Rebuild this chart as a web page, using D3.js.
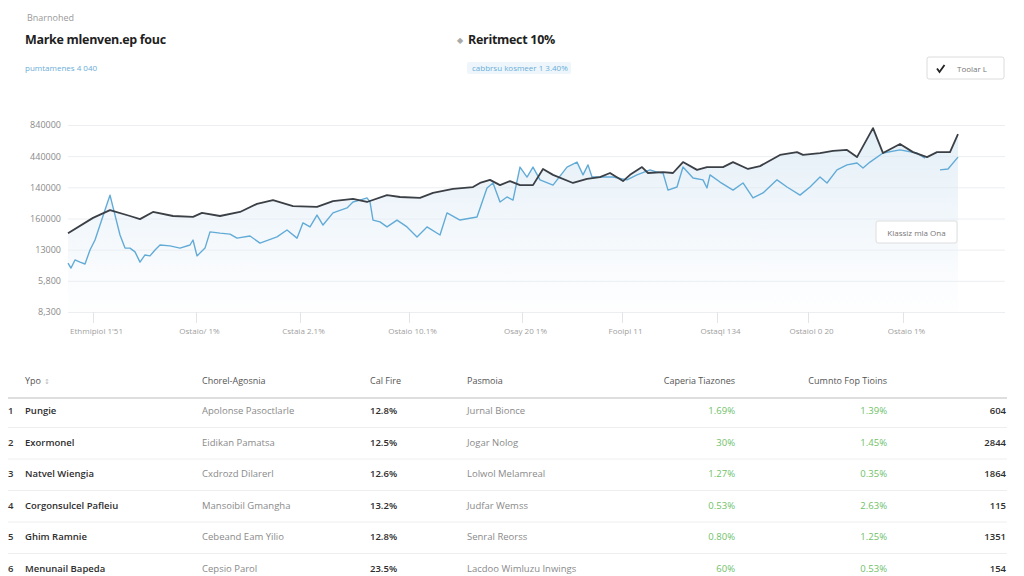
<!DOCTYPE html>
<html>
<head>
<meta charset="utf-8">
<script src="https://cdn.jsdelivr.net/npm/d3@7"></script>
<style>
  body { margin: 0; background: #fff; font-family: "Open Sans", "DejaVu Sans", sans-serif; }
  svg text { font-family: "Open Sans", "DejaVu Sans", sans-serif; }
  .axis .domain { display: none; }
</style>
</head>
<body>
<svg id="page"></svg>
<script>
// ---- data ----
const yTickValues = [0, 100, 200, 300, 400, 500, 600];
const yTickLabels = ["8,300", "5,800", "13000", "160000", "140000", "440000", "840000"];

const xTickValues = [2.5, 12.8, 23.2, 34.1, 45.4, 55.4, 64.9, 74.0, 83.5];
const xTickLabels = ["Ethmipiol 1'51", "Ostaio/ 1%", "Cstaia 2.1%", "Ostaio 10.1%", "Osay 20 1%",
                     "Fooipi 11", "Ostaql 134", "Ostaiol 0 20", "Ostaio 1%"];

// [day, value]
const darkSeries = [
  [0,253],[2.5,302],[4.2,327],[6.2,308],[7.2,298],[8.5,321],[10.5,308],[12.5,305],[13.4,318],
  [15.2,308],[17.2,321],[18.9,347],[20.5,359],[22.5,340],[24.9,337],[26.5,356],[28.5,363],
  [29.9,353],[31.9,375],[33.2,369],[35.2,366],[36.5,382],[38.5,395],[40.5,401],[41.2,414],
  [42.2,424],[43.2,407],[44.2,420],[45.2,407],[46.5,407],[47.5,459],[48.5,440],[50.5,414],
  [51.9,427],[53.2,433],[54.2,446],[55.5,420],[56.2,440],[57.4,465],[58.0,446],[59.5,449],
  [60.5,446],[61.5,481],[62.9,456],[63.9,465],[65.5,465],[66.5,481],[68.0,459],[69.2,468],
  [71.2,504],[72.9,513],[73.5,504],[75.2,510],[76.5,517],[77.9,520],[78.9,497],[80.5,590],
  [81.5,510],[83.2,539],[84.5,513],[85.9,497],[86.9,513],[88.2,513],[89,571]
];

const blueSeries = [
  [0,157],[0.3,141],[0.7,167],[1.2,160],[1.7,154],[2.2,199],[2.7,231],[3.2,279],[3.7,327],
  [4.2,375],[4.7,311],[5.2,247],[5.7,205],[6.2,205],[6.7,193],[7.2,160],[7.7,183],[8.2,180],
  [8.7,199],[9.2,215],[10.2,212],[11.2,205],[12.2,215],[12.5,231],[12.9,180],[13.7,205],
  [14.2,257],[15.2,253],[16.2,250],[16.9,237],[18.2,244],[19.2,221],[20.9,241],[21.9,263],
  [22.9,237],[23.5,286],[24.2,273],[24.9,311],[25.5,279],[26.5,318],[27.9,334],[28.5,353],
  [29.2,359],[29.9,366],[30.2,353],[30.5,295],[31.2,289],[31.9,273],[32.9,295],[33.9,273],
  [34.9,241],[35.9,273],[37.2,247],[37.9,318],[39.2,295],[40.9,305],[41.9,398],[42.5,414],
  [43.2,353],[43.9,369],[44.5,359],[45.2,465],[45.9,433],[46.5,465],[47.2,424],[48.5,407],
  [49.9,465],[50.9,481],[51.5,440],[52.0,472],[52.4,433],[53.2,433],[54.5,433],[55.9,424],
  [56.9,440],[58.2,456],[58.9,449],[59.5,446],[60.0,391],[60.9,401],[61.5,465],[62.5,430],
  [63.5,424],[63.9,398],[64.2,440],[65.2,417],[66.5,391],[67.5,414],[68.5,366],[69.5,382],
  [70.9,424],[71.9,401],[73.2,375],[74.2,401],[75.2,433],[75.9,414],[76.9,456],[77.9,472],
  [78.9,478],[79.5,462],[80.2,481],[81.5,510],[83.2,520],[84.9,510],[85.7,494],[86.3,null],
  [87.2,456],[88.0,459],[89,497]
];

const tableHeaders = ["Ypo", "Chorel-Agosnia", "Cal Fire", "Pasmoia", "Caperia Tiazones", "Cumnto Fop Tioins", ""];
const rowNames = ["Pungie", "Exormonel", "Natvel Wiengia", "Corgonsulcel Pafleiu", "Ghim Ramnie", "Menunail Bapeda"];
const rowAgents = ["Apolonse Pasoctlarle", "Eidikan Pamatsa", "Cxdrozd Dilarerl", "Mansoibil Gmangha", "Cebeand Eam Yilio", "Cepsio Parol"];
const rowFire = ["12.8%", "12.5%", "12.6%", "13.2%", "12.8%", "23.5%"];
const rowPasmoia = ["Jurnal Bionce", "Jogar Nolog", "Lolwol Melamreal", "Judfar Wemss", "Senral Reorss", "Lacdoo Wimluzu Inwings"];
const rowCaperia = ["1.69%", "30%", "1.27%", "0.53%", "0.80%", "60%"];
const rowCumnto = ["1.39%", "1.45%", "0.35%", "2.63%", "1.25%", "0.53%"];
const rowCount = ["604", "2844", "1864", "115", "1351", "154"];

// ---- page ----
const W = 1024, H = 576;
const svg = d3.select("#page").attr("width", W).attr("height", H);

// header
svg.append("text").attr("x", 27).attr("y", 21).attr("font-size", 9).attr("fill", "#9a9a9a").text("Bnarnohed");
svg.append("text").attr("x", 25).attr("y", 44).attr("font-size", 12.5).attr("font-weight", 700)
  .attr("letter-spacing", -0.3).attr("fill", "#1f1f1f").text("Marke mlenven.ep fouc");
svg.append("text").attr("x", 25).attr("y", 71).attr("font-size", 8).attr("fill", "#6aaed8").text("pumtamenes 4 040");

svg.append("text").attr("x", 457).attr("y", 43).attr("font-size", 8).attr("fill", "#aaa").text("◆");
svg.append("text").attr("x", 468).attr("y", 44).attr("font-size", 12.5).attr("font-weight", 700)
  .attr("letter-spacing", -0.3).attr("fill", "#1f1f1f").text("Reritmect 10%");
svg.append("rect").attr("x", 467).attr("y", 62).attr("width", 104).attr("height", 12).attr("rx", 2).attr("fill", "#eef6fb");
svg.append("text").attr("x", 472).attr("y", 71).attr("font-size", 8).attr("fill", "#6aaed8").text("cabbrsu kosmeer 1 3.40%");

const btn = svg.append("g").attr("transform", "translate(927,57)");
btn.append("rect").attr("width", 77).attr("height", 22).attr("rx", 2).attr("fill", "#fff")
  .attr("stroke", "#dcdcdc");
btn.append("path").attr("d", "M10,11.5 l2.5,3.5 l5,-7").attr("fill", "none").attr("stroke", "#222").attr("stroke-width", 1.8);
btn.append("text").attr("x", 30).attr("y", 14.5).attr("font-size", 8).attr("fill", "#777").text("Toolar L");

// ---- chart ----
const plot = {left: 68, right: 1005, top: 125, bottom: 312};
const x = d3.scaleLinear().domain([0, 89]).range([plot.left, 958]);
const y = d3.scaleLinear().domain([0, 600]).range([plot.bottom, plot.top]);

const yAxisG = svg.append("g").attr("class", "axis")
  .attr("transform", `translate(${plot.left},0)`)
  .call(d3.axisLeft(y).tickValues(yTickValues)
    .tickFormat((d, i) => yTickLabels[i])
    .tickSize(-(plot.right - plot.left)).tickPadding(7));
yAxisG.selectAll(".tick line").attr("stroke", "#eceef1");
yAxisG.selectAll(".tick text").attr("fill", "#8a8a8a").attr("font-size", 9);

const xAxisG = svg.append("g").attr("class", "axis")
  .attr("transform", `translate(0,${plot.bottom})`)
  .call(d3.axisBottom(x).tickValues(xTickValues)
    .tickFormat((d, i) => xTickLabels[i]).tickSize(11).tickPadding(5));
xAxisG.selectAll(".tick line").attr("stroke", "#e2e4e7");
xAxisG.selectAll(".tick text").attr("fill", "#a0a0a0").attr("font-size", 8).attr("dx", 3);

// fill under both lines (union via clip)
const defs = svg.append("defs");
const grad = defs.append("linearGradient").attr("id", "fillGrad")
  .attr("gradientUnits", "userSpaceOnUse")
  .attr("x1", 0).attr("x2", 0).attr("y1", y(600)).attr("y2", y(0));
grad.append("stop").attr("offset", 0).attr("stop-color", "#d6e7f3").attr("stop-opacity", 0.7);
grad.append("stop").attr("offset", 0.6).attr("stop-color", "#e3eef7").attr("stop-opacity", 0.4);
grad.append("stop").attr("offset", 1).attr("stop-color", "#f0f5fa").attr("stop-opacity", 0.1);

const area = d3.area().defined(d => d[1] != null)
  .x(d => x(d[0])).y0(y(0)).y1(d => y(d[1]));
const clip = defs.append("clipPath").attr("id", "fillClip");
clip.append("path").attr("d", area(darkSeries));
clip.append("path").attr("d", area(blueSeries.filter(d => d[1] != null)));

svg.append("rect").attr("x", x(0)).attr("y", plot.top - 10).attr("width", x(89) - x(0))
  .attr("height", plot.bottom - plot.top + 10).attr("fill", "url(#fillGrad)")
  .attr("clip-path", "url(#fillClip)");

const line = d3.line().defined(d => d[1] != null).x(d => x(d[0])).y(d => y(d[1]));
svg.append("path").datum(blueSeries).attr("d", line).attr("fill", "none")
  .attr("stroke", "#62abd7").attr("stroke-width", 1.4).attr("stroke-linejoin", "round");
svg.append("path").datum(darkSeries).attr("d", line).attr("fill", "none")
  .attr("stroke", "#3b3f46").attr("stroke-width", 1.8).attr("stroke-linejoin", "round");

// annotation box
const note = svg.append("g").attr("transform", "translate(876,221)");
note.append("rect").attr("width", 81).attr("height", 22).attr("rx", 2).attr("fill", "#fff")
  .attr("stroke", "#dedede");
note.append("text").attr("x", 40.5).attr("y", 14.5).attr("text-anchor", "middle")
  .attr("font-size", 8).attr("fill", "#777").text("Klassiz mla Ona");

// ---- table ----
const colX = [25, 202, 370, 467, 735, 887, 1006];
const colAnchor = ["start", "start", "start", "start", "end", "end", "end"];
const headY = 384, rowY0 = 414, rowStep = 31.5;

svg.append("g").selectAll("text").data(tableHeaders).join("text")
  .attr("x", (d, i) => colX[i]).attr("y", headY).attr("text-anchor", (d, i) => colAnchor[i])
  .attr("font-size", 9).attr("fill", "#555").text(d => d);
svg.append("text").attr("x", 44).attr("y", headY).attr("font-size", 7).attr("fill", "#bbb").text("↕");

svg.append("line").attr("x1", 8).attr("x2", 1007).attr("y1", 398).attr("y2", 398)
  .attr("stroke", "#dedede").attr("stroke-width", 2);

const rows = rowNames.map((n, i) => ({
  idx: i + 1, cells: [n, rowAgents[i], rowFire[i], rowPasmoia[i], rowCaperia[i], rowCumnto[i], rowCount[i]]
}));
const cellStyle = [
  {fill: "#2e2e2e", weight: 600}, {fill: "#8a8a8a", weight: 400}, {fill: "#2e2e2e", weight: 600},
  {fill: "#8a8a8a", weight: 400}, {fill: "#6fbf6a", weight: 400}, {fill: "#6fbf6a", weight: 400},
  {fill: "#2e2e2e", weight: 600}
];

const rowG = svg.append("g").selectAll("g").data(rows).join("g")
  .attr("transform", (d, i) => `translate(0,${rowY0 + i * rowStep})`);
rowG.filter((d, i) => i < rows.length - 1).append("line")
  .attr("x1", 8).attr("x2", 1007).attr("y1", 13.5).attr("y2", 13.5).attr("stroke", "#eeeeee");
rowG.append("text").attr("x", 8).attr("y", 0).attr("font-size", 9.5).attr("font-weight", 600)
  .attr("fill", "#333").text(d => d.idx);
rowG.selectAll("text.cell").data(d => d.cells).join("text").attr("class", "cell")
  .attr("x", (d, i) => colX[i]).attr("y", 0).attr("text-anchor", (d, i) => colAnchor[i])
  .attr("font-size", 9.5).attr("font-weight", (d, i) => cellStyle[i].weight)
  .attr("fill", (d, i) => cellStyle[i].fill).text(d => d);
</script>
</body>
</html>
